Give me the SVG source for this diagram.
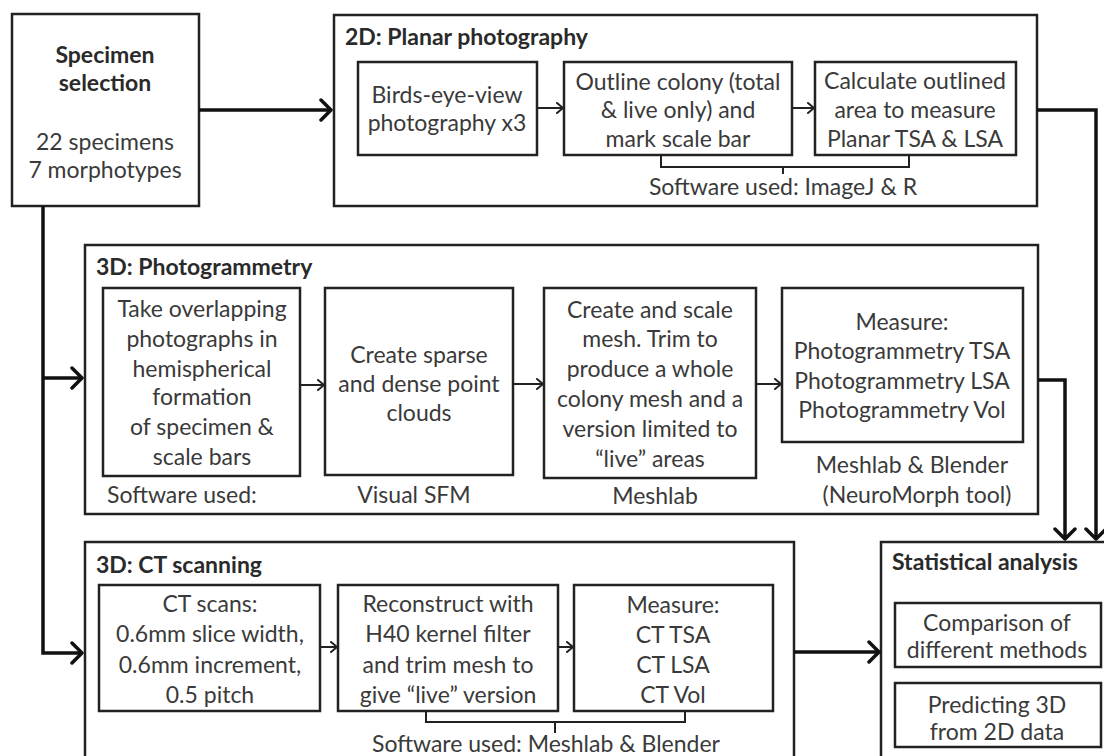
<svg xmlns="http://www.w3.org/2000/svg" width="1104" height="756" viewBox="0 0 1104 756">
<style>
.box{fill:#fff;stroke:#222;stroke-width:2.5}
.t{font-family:Lato,"Open Sans",sans-serif;font-size:23px;fill:#3a3a3a;text-anchor:middle}
.l{text-anchor:start}
.h{font-family:Lato,"Open Sans",sans-serif;font-weight:bold;font-size:23px;fill:#2a2a2a}
.c{stroke:#111;stroke-width:3.5;fill:none}
.ci{stroke:#222;stroke-width:2;fill:none}
</style>
<defs>
<marker id="ah" markerUnits="userSpaceOnUse" viewBox="0 0 24 24" markerWidth="24" markerHeight="24" refX="21" refY="12" orient="auto"><path d="M11,2 L21,12 L11,22" fill="none" stroke="#111" stroke-width="3.5" stroke-linecap="round" stroke-linejoin="round"/></marker>
<marker id="as" markerUnits="userSpaceOnUse" viewBox="0 0 12 12" markerWidth="12" markerHeight="12" refX="10" refY="6" orient="auto"><path d="M4,1 L10,6 L4,11" fill="none" stroke="#222" stroke-width="2" stroke-linecap="round" stroke-linejoin="round"/></marker>
</defs>
<rect width="1104" height="756" fill="#fff"/>

<g id="specimen">
<rect class="box" x="12" y="14" width="187" height="192"/>
<text class="h" x="105" y="63" text-anchor="middle">Specimen</text>
<text class="h" x="105" y="91" text-anchor="middle">selection</text>
<text class="t" x="105" y="150">22 specimens</text>
<text class="t" x="105" y="178">7 morphotypes</text>
</g>

<g id="planar">
<rect class="box" x="334" y="15" width="703" height="191"/>
<text class="h" x="345" y="45">2D: Planar photography</text>
<g id="planar-1"><rect class="box" x="358" y="62" width="179" height="93"/>
<text class="t" x="447" y="103">Birds-eye-view</text>
<text class="t" x="447" y="131">photography x3</text></g>
<g id="planar-2"><rect class="box" x="564" y="62" width="228" height="93"/>
<text class="t" x="678" y="90">Outline colony (total</text>
<text class="t" x="678" y="118">&amp; live only) and</text>
<text class="t" x="678" y="147">mark scale bar</text></g>
<g id="planar-3"><rect class="box" x="815" y="62" width="201" height="93"/>
<text class="t" x="915" y="89">Calculate outlined</text>
<text class="t" x="915" y="118">area to measure</text>
<text class="t" x="915" y="147">Planar TSA &amp; LSA</text></g>
<text class="t" x="783" y="195">Software used: ImageJ &amp; R</text>
</g>

<g id="photogrammetry">
<rect class="box" x="85" y="245" width="953" height="269"/>
<text class="h" x="96" y="275">3D: Photogrammetry</text>
<g id="photo-1"><rect class="box" x="103" y="288" width="197" height="188"/>
<text class="t" x="202" y="317">Take overlapping</text>
<text class="t" x="202" y="347">photographs in</text>
<text class="t" x="202" y="377">hemispherical</text>
<text class="t" x="202" y="405">formation</text>
<text class="t" x="202" y="435">of specimen &amp;</text>
<text class="t" x="202" y="465">scale bars</text></g>
<g id="photo-2"><rect class="box" x="325" y="288" width="188" height="187"/>
<text class="t" x="419" y="363">Create sparse</text>
<text class="t" x="419" y="392">and dense point</text>
<text class="t" x="419" y="421">clouds</text></g>
<g id="photo-3"><rect class="box" x="544" y="288" width="212" height="190"/>
<text class="t" x="650" y="318">Create and scale</text>
<text class="t" x="650" y="347">mesh. Trim to</text>
<text class="t" x="650" y="377">produce a whole</text>
<text class="t" x="650" y="407">colony mesh and a</text>
<text class="t" x="650" y="437">version limited to</text>
<text class="t" x="650" y="467">“live” areas</text></g>
<g id="photo-4"><rect class="box" x="782" y="288" width="241" height="154"/>
<text class="t" x="902" y="330">Measure:</text>
<text class="t" x="902" y="359">Photogrammetry TSA</text>
<text class="t" x="902" y="389">Photogrammetry LSA</text>
<text class="t" x="902" y="418">Photogrammetry Vol</text></g>
<text class="t l" x="107" y="503">Software used:</text>
<text class="t" x="414" y="503">Visual SFM</text>
<text class="t" x="655" y="504">Meshlab</text>
<text class="t" x="912" y="473">Meshlab &amp; Blender</text>
<text class="t" x="917" y="503">(NeuroMorph tool)</text>
</g>

<g id="ct">
<rect class="box" x="85" y="542" width="709" height="240"/>
<text class="h" x="96" y="573">3D: CT scanning</text>
<g id="ct-1"><rect class="box" x="99" y="585" width="221" height="126"/>
<text class="t" x="210" y="612">CT scans:</text>
<text class="t" x="210" y="642">0.6mm slice width,</text>
<text class="t" x="210" y="673">0.6mm increment,</text>
<text class="t" x="210" y="703">0.5 pitch</text></g>
<g id="ct-2"><rect class="box" x="338" y="585" width="220" height="126"/>
<text class="t" x="448" y="612">Reconstruct with</text>
<text class="t" x="448" y="642">H40 kernel filter</text>
<text class="t" x="448" y="673">and trim mesh to</text>
<text class="t" x="448" y="703">give “live” version</text></g>
<g id="ct-3"><rect class="box" x="574" y="585" width="199" height="126"/>
<text class="t" x="673" y="613">Measure:</text>
<text class="t" x="673" y="643">CT TSA</text>
<text class="t" x="673" y="673">CT LSA</text>
<text class="t" x="673" y="703">CT Vol</text></g>
<text class="t" x="546" y="752">Software used: Meshlab &amp; Blender</text>
</g>

<g id="stats">
<rect class="box" x="881" y="542" width="240" height="240"/>
<text class="h" x="892" y="570">Statistical analysis</text>
<g id="stats-1"><rect class="box" x="895" y="603" width="206" height="64"/>
<text class="t" x="997" y="631">Comparison of</text>
<text class="t" x="997" y="658">different methods</text></g>
<g id="stats-2"><rect class="box" x="895" y="683" width="206" height="64"/>
<text class="t" x="997" y="713">Predicting 3D</text>
<text class="t" x="997" y="740">from 2D data</text></g>
</g>

<g id="connectors">
<path class="c" d="M199,110 H331" marker-end="url(#ah)"/>
<path class="c" d="M43,206 V653 H82" marker-end="url(#ah)"/>
<path class="c" d="M43,378 H82" marker-end="url(#ah)"/>
<path class="c" d="M1037,110 H1096 V539" marker-end="url(#ah)"/>
<path class="c" d="M1038,380 H1065 V539" marker-end="url(#ah)"/>
<path class="c" d="M794,652 H879" marker-end="url(#ah)"/>
<path class="ci" d="M537,108 H563" marker-end="url(#as)"/>
<path class="ci" d="M792,108 H814" marker-end="url(#as)"/>
<path class="ci" d="M300,385 H324" marker-end="url(#as)"/>
<path class="ci" d="M513,384 H543" marker-end="url(#as)"/>
<path class="ci" d="M756,384 H781" marker-end="url(#as)"/>
<path class="ci" d="M320,647 H337" marker-end="url(#as)"/>
<path class="ci" d="M558,647 H573" marker-end="url(#as)"/>
<path class="ci" d="M661,155 V167 H909 V155 M783,167 V174"/>
<path class="ci" d="M426,711 V722 H685 V711 M555,722 V733"/>
</g>
</svg>
